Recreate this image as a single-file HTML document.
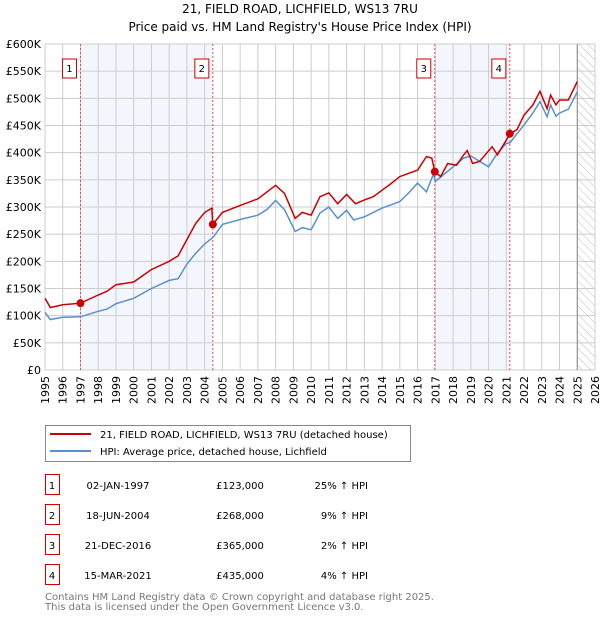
<!DOCTYPE html>
<html><head><meta charset="utf-8"><style>
body{margin:0;background:#fff;font-family:"DejaVu Sans","Liberation Sans",sans-serif;}
svg text{font-family:"DejaVu Sans","Liberation Sans",sans-serif;}
</style></head><body>
<svg id="c" width="600" height="620" xmlns="http://www.w3.org/2000/svg">
<text x="300" y="13" text-anchor="middle" font-size="12">21, FIELD ROAD, LICHFIELD, WS13 7RU</text>
<text x="300" y="31" text-anchor="middle" font-size="12">Price paid vs. HM Land Registry's House Price Index (HPI)</text>
<defs><pattern id="hatch" width="6" height="6" patternUnits="userSpaceOnUse" patternTransform="rotate(-45)"><line x1="0" y1="0" x2="0" y2="6" stroke="#bbb" stroke-width="1"/></pattern></defs>
<g id="plot"></g>
<rect x="45.5" y="425.5" width="365" height="36" fill="#fff" stroke="#888"/>
<line x1="50" y1="434" x2="91" y2="434" stroke="#cc0000" stroke-width="2"/>
<text x="100" y="438" font-size="10">21, FIELD ROAD, LICHFIELD, WS13 7RU (detached house)</text>
<line x1="50" y1="451" x2="91" y2="451" stroke="#5b8fd0" stroke-width="2"/>
<text x="100" y="455" font-size="10">HPI: Average price, detached house, Lichfield</text>
<g id="table" font-size="10"></g>
<text x="45" y="600" font-size="10" fill="#777">Contains HM Land Registry data © Crown copyright and database right 2025.</text>
<text x="45" y="610" font-size="10" fill="#777">This data is licensed under the Open Government Licence v3.0.</text>
</svg>
<script>
const hpiYears=[1995,1995.3,1996,1997,1998,1998.5,1999,2000,2001,2002,2002.5,2003,2003.5,2004,2004.5,2005,2006,2007,2007.5,2008,2008.5,2009.1,2009.5,2010,2010.5,2011,2011.5,2012,2012.4,2013,2014,2015,2015.5,2016,2016.5,2016.9,2017,2018,2018.6,2019,2020,2020.5,2021,2021.2,2022,2022.5,2022.9,2023.3,2023.5,2023.8,2024,2024.5,2025];
const hpiValues=[106,93,97,98,108,112,122,132,150,165,168,195,215,232,245,268,277,285,295,312,295,255,262,258,289,300,279,294,276,282,298,310,326,344,328,361,347,374,390,394,374,399,417,418,451,473,494,466,488,467,473,480,512];
const propYears=[1995,1995.3,1996,1997,1998,1998.5,1999,2000,2001,2002,2002.5,2003,2003.5,2004,2004.4,2004.46,2005,2006,2007,2008,2008.5,2009.1,2009.5,2010,2010.5,2011,2011.5,2012,2012.5,2013,2013.5,2014,2014.5,2015,2015.5,2016,2016.5,2016.8,2016.97,2017.3,2017.7,2018.2,2018.6,2018.8,2019.1,2019.5,2020.2,2020.5,2021,2021.2,2021.6,2022,2022.5,2022.9,2023.3,2023.5,2023.8,2024,2024.5,2025];
const propValues=[132,115,120,123,138,145,157,162,185,200,210,240,270,290,298,268,290,303,315,340,325,279,290,285,319,326,306,323,306,313,319,331,343,356,362,368,393,390,365,356,380,377,396,404,380,384,411,396,423,435,442,469,488,513,481,506,488,497,497,531];
const saleLabels=["1","2","3","4"];
const saleYears=[1997.0,2004.46,2016.97,2021.2];
const saleValues=[123,268,365,435];
const saleDates=["02-JAN-1997","18-JUN-2004","21-DEC-2016","15-MAR-2021"];
const salePrices=["£123,000","£268,000","£365,000","£435,000"];
const saleHpi=["25% ↑ HPI","9% ↑ HPI","2% ↑ HPI","4% ↑ HPI"];
const yTicks=[0,50,100,150,200,250,300,350,400,450,500,550,600];
const yTickLabels=["£0","£50K","£100K","£150K","£200K","£250K","£300K","£350K","£400K","£450K","£500K","£550K","£600K"];
const xTicks=[1995,1996,1997,1998,1999,2000,2001,2002,2003,2004,2005,2006,2007,2008,2009,2010,2011,2012,2013,2014,2015,2016,2017,2018,2019,2020,2021,2022,2023,2024,2025,2026];
const NS="http://www.w3.org/2000/svg";
const L=45,R=595,T=44,B=370,X0=1995,X1=2026,YMAX=600;
const xs=v=>L+(v-X0)/(X1-X0)*(R-L);
const ys=v=>B-v/YMAX*(B-T);
const g=document.getElementById('plot');
function mk(tag,attrs,parent){const e=document.createElementNS(NS,tag);for(const k in attrs)e.setAttribute(k,attrs[k]);(parent||g).appendChild(e);return e;}
// shaded regions between sales
for(let i=0;i<saleYears.length;i+=2){
const r=mk('rect',{x:xs(saleYears[i]),y:T,width:xs(saleYears[i+1])-xs(saleYears[i]),height:B-T,fill:'#eef3fc',opacity:0.7});


}
const hx=xs(2025);
const hr=mk('rect',{x:hx,y:T,width:R-hx,height:B-T,fill:'url(#hatch)'});


yTicks.forEach((v,i)=>{
const ln=mk('line',{x1:L,x2:R,y1:ys(v),y2:ys(v),stroke:'#ccc','stroke-width':1});


const t=mk('text',{x:L-4,y:ys(v)+4,'text-anchor':'end','font-size':11});
t.textContent=yTickLabels[i];


});
xTicks.forEach(v=>{
const ln=mk('line',{x1:xs(v),x2:xs(v),y1:T,y2:B,stroke:'#ccc','stroke-width':1});


const t=mk('text',{x:0,y:0,'text-anchor':'end','font-size':11,transform:`translate(${xs(v)+4},${B+6}) rotate(-90)`});
t.textContent=v;


});
const vl=mk('line',{x1:hx,x2:hx,y1:T,y2:B,stroke:'#888','stroke-width':1});


saleYears.forEach((v,i)=>{
const ln=mk('line',{x1:xs(v),x2:xs(v),y1:T,y2:B,stroke:'#e05050','stroke-width':1,'stroke-dasharray':'2,2'});


const bx=mk('rect',{x:xs(v)-18,y:59,width:14,height:19,fill:'#fff',stroke:'#cc0000'});


const t=mk('text',{x:xs(v)-11,y:72,'text-anchor':'middle','font-size':10});
t.textContent=saleLabels[i];


});
function path(xa,va){return xa.map((x,i)=>(i?'L':'M')+xs(x).toFixed(1)+','+ys(va[i]).toFixed(1)).join('');}
const hp=mk('path',{d:path(hpiYears,hpiValues),fill:'none',stroke:'#5b8fd0','stroke-width':1.5});


const pp=mk('path',{d:path(propYears,propValues),fill:'none',stroke:'#cc0000','stroke-width':1.5});


saleYears.forEach((v,i)=>{
const c=mk('circle',{cx:xs(v),cy:ys(saleValues[i]),r:4,fill:'#cc0000'});


});
const tb=document.getElementById('table');
saleLabels.forEach((s,i)=>{
const y=485+i*30;
const b=mk('rect',{x:45.5,y:y-10.5,width:14,height:20,fill:'#fff',stroke:'#cc0000'},tb);


const cols=[[52,s,'middle'],[118,saleDates[i],'middle'],[240,salePrices[i],'middle'],[368,saleHpi[i],'end']];
const names=['table-sale-number','table-sale-date','table-sale-price','table-sale-hpi'];
cols.forEach((c,j)=>{
const t=mk('text',{x:c[0],y:y+4,'text-anchor':c[2],'font-size':10},tb);
t.textContent=c[1];


});
});
</script>
</body></html>
